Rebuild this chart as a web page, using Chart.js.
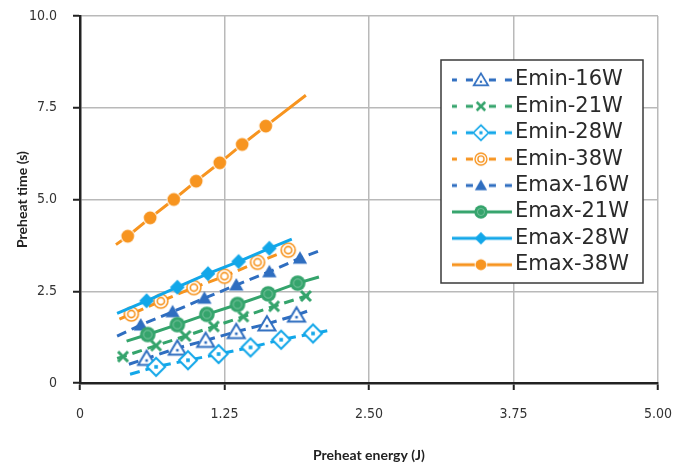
<!DOCTYPE html>
<html><head><meta charset="utf-8">
<script src="https://cdn.jsdelivr.net/npm/chart.js@4.4.1/dist/chart.umd.min.js"></script>
<style>html,body{margin:0;padding:0;background:#fff;}#wrap{width:686px;height:464px;}</style>
</head><body><div id="wrap"><canvas id="c" width="686" height="464"></canvas></div>
<script>
// ---------- data ----------
const SERIES_NAMES = ['Emin-16W','Emin-21W','Emin-28W','Emin-38W','Emax-16W','Emax-21W','Emax-28W','Emax-38W'];

const EMIN_16W_X = [0.576, 0.842, 1.087, 1.352, 1.617, 1.873];
const EMIN_16W_Y = [0.67, 0.95, 1.16, 1.40, 1.61, 1.85];
const EMIN_16W_FIT = [0.423, 0.51, 1.995, 1.99];

const EMIN_21W_X = [0.372, 0.658, 0.913, 1.158, 1.413, 1.679, 1.954];
const EMIN_21W_Y = [0.72, 1.02, 1.28, 1.54, 1.81, 2.09, 2.37];
const EMIN_21W_FIT = [0.321, 0.67, 2.016, 2.45];

const EMIN_28W_X = [0.658, 0.934, 1.199, 1.475, 1.740, 2.016];
const EMIN_28W_Y = [0.44, 0.62, 0.79, 0.97, 1.18, 1.35];
const EMIN_28W_FIT = [0.433, 0.24, 2.189, 1.45];

const EMIN_38W_X = [0.444, 0.699, 0.985, 1.250, 1.536, 1.801];
const EMIN_38W_Y = [1.88, 2.23, 2.60, 2.91, 3.29, 3.62];
const EMIN_38W_FIT = [0.341, 1.74, 1.873, 3.73];

const EMAX_16W_X = [0.525, 0.801, 1.076, 1.352, 1.638, 1.903];
const EMAX_16W_Y = [1.58, 1.94, 2.31, 2.67, 3.03, 3.40];
const EMAX_16W_FIT = [0.321, 1.28, 2.087, 3.62];

const EMAX_21W_X = [0.586, 0.842, 1.097, 1.362, 1.628, 1.883];
const EMAX_21W_Y = [1.32, 1.59, 1.87, 2.14, 2.43, 2.72];
const EMAX_21W_FIT = [0.403, 1.14, 2.067, 2.89];

const EMAX_28W_X = [0.576, 0.842, 1.107, 1.372, 1.638];
const EMAX_28W_Y = [2.24, 2.61, 2.98, 3.31, 3.67];
const EMAX_28W_FIT = [0.321, 1.90, 1.832, 3.92];

const EMAX_38W_X = [0.413, 0.607, 0.811, 1.005, 1.209, 1.403, 1.607];
const EMAX_38W_Y = [4.0, 4.5, 5.0, 5.5, 6.0, 6.5, 7.0];
const EMAX_38W_FIT = [0.311, 3.77, 1.954, 7.84];

const X_TICKS = [0, 1.25, 2.5, 3.75, 5];
const X_TICK_LABELS = ['0', '1.25', '2.50', '3.75', '5.00'];
const Y_TICKS = [0, 2.5, 5, 7.5, 10];
const Y_TICK_LABELS = ['0', '2.5', '5.0', '7.5', '10.0'];

// ---------- styling ----------
const BLUE = '#2f6ec0', GREEN = '#35a46c', CYAN = '#12a7e9', ORANGE = '#f7941f';

function drawMarker(g, kind, color) {
  g.lineJoin = 'miter';
  switch (kind) {
    case 'triOpen':
      g.beginPath(); g.moveTo(0, -7.8); g.lineTo(8.5, 6.4); g.lineTo(-8.5, 6.4); g.closePath();
      g.fillStyle = '#fff'; g.fill(); g.strokeStyle = color; g.lineWidth = 2; g.stroke();
      g.fillStyle = color; g.fillRect(-1.3, 0.8, 2.6, 2.6); break;
    case 'cross':
      g.strokeStyle = color; g.lineWidth = 3; g.beginPath();
      g.moveTo(-5, -5); g.lineTo(5, 5); g.moveTo(5, -5); g.lineTo(-5, 5); g.stroke(); break;
    case 'diaOpen':
      g.beginPath(); g.moveTo(0, -9); g.lineTo(9, 0); g.lineTo(0, 9); g.lineTo(-9, 0); g.closePath();
      g.fillStyle = '#fff'; g.fill(); g.strokeStyle = color; g.lineWidth = 2; g.stroke();
      g.fillStyle = color; g.fillRect(-1.8, -1.8, 3.6, 3.6); break;
    case 'circOpen2':
      g.beginPath(); g.arc(0, 0, 7, 0, Math.PI * 2); g.fillStyle = '#fff'; g.fill();
      g.strokeStyle = color; g.lineWidth = 1.6; g.stroke();
      g.beginPath(); g.arc(0, 0, 3.6, 0, Math.PI * 2); g.stroke(); break;
    case 'triFill':
      g.beginPath(); g.moveTo(0, -7); g.lineTo(7.2, 5.6); g.lineTo(-7.2, 5.6); g.closePath();
      g.fillStyle = color; g.fill(); break;
    case 'circFill2':
      g.beginPath(); g.arc(0, 0, 7.8, 0, Math.PI * 2); g.fillStyle = color; g.fill();
      g.beginPath(); g.arc(0, 0, 4.2, 0, Math.PI * 2); g.strokeStyle = 'rgba(255,255,255,0.35)'; g.lineWidth = 1; g.stroke(); break;
    case 'diaFill':
      g.beginPath(); g.moveTo(0, -7.4); g.lineTo(7.4, 0); g.lineTo(0, 7.4); g.lineTo(-7.4, 0); g.closePath();
      g.fillStyle = color; g.fill(); break;
    case 'circFill':
      g.beginPath(); g.arc(0, 0, 7.4, 0, Math.PI * 2); g.fillStyle = '#fff'; g.fill();
      g.beginPath(); g.arc(0, 0, 6.4, 0, Math.PI * 2); g.fillStyle = color; g.fill(); break;
  }
}
function markerCanvas(kind, color) {
  const c = document.createElement('canvas'); c.width = 24; c.height = 24;
  const g = c.getContext('2d'); g.translate(12, 12); drawMarker(g, kind, color); return c;
}
function legendSample(kind, color, dashed) {
  const c = document.createElement('canvas'); c.width = 66; c.height = 22;
  const g = c.getContext('2d');
  g.strokeStyle = color; g.lineWidth = 3;
  if (dashed) { g.setLineDash([7, 9]); }
  g.beginPath(); g.moveTo(2, 11); g.lineTo(33, 11); g.stroke();
  g.beginPath(); g.moveTo(64, 11); g.lineTo(33, 11); g.stroke();
  g.setLineDash([]);
  g.translate(33, 11); g.scale(0.85, 0.85); drawMarker(g, kind, color);
  return c;
}

const SPECS = [
  [EMIN_16W_X, EMIN_16W_Y, EMIN_16W_FIT, 'triOpen', BLUE, true],
  [EMIN_21W_X, EMIN_21W_Y, EMIN_21W_FIT, 'cross', GREEN, true],
  [EMIN_28W_X, EMIN_28W_Y, EMIN_28W_FIT, 'diaOpen', CYAN, true],
  [EMIN_38W_X, EMIN_38W_Y, EMIN_38W_FIT, 'circOpen2', ORANGE, true],
  [EMAX_16W_X, EMAX_16W_Y, EMAX_16W_FIT, 'triFill', BLUE, true],
  [EMAX_21W_X, EMAX_21W_Y, EMAX_21W_FIT, 'circFill2', GREEN, false],
  [EMAX_28W_X, EMAX_28W_Y, EMAX_28W_FIT, 'diaFill', CYAN, false],
  [EMAX_38W_X, EMAX_38W_Y, EMAX_38W_FIT, 'circFill', ORANGE, false]
];
const LEGEND_SAMPLES = SPECS.map(s => legendSample(s[3], s[4], s[5]));

const datasets = SPECS.map((s, i) => {
  const [xs, ys, fit, kind, color, dashed] = s;
  const data = [{x: fit[0], y: fit[1]}].concat(xs.map((x, j) => ({x: x, y: ys[j]})), [{x: fit[2], y: fit[3]}]);
  const n = data.length;
  const radii = data.map((_, j) => (j === 0 || j === n - 1) ? 0 : 7);
  return {
    label: SERIES_NAMES[i], data: data, showLine: true, order: SPECS.length - i,
    borderColor: color, backgroundColor: color, borderWidth: 3,
    borderDash: dashed ? [10, 6] : [], borderCapStyle: 'butt',
    pointStyle: markerCanvas(kind, color), pointRadius: radii, pointHoverRadius: radii,
    tension: 0
  };
});

// legend box (pixel frame around the legend)
const BOX = {l: 441, t: 60, r: 643, b: 283};
const legendPlacer = {
  id: 'legendPlacer',
  beforeDraw(chart) {
    const lg = chart.legend;
    lg.left = 452; lg.top = 64; lg.right = BOX.r; lg.bottom = 300;
    lg.width = lg.right - lg.left; lg.height = lg.bottom - lg.top;
  },
  afterDatasetsDraw(chart) {
    const ctx = chart.ctx;
    ctx.save();
    ctx.fillStyle = '#fff';
    ctx.fillRect(BOX.l, BOX.t, BOX.r - BOX.l, BOX.b - BOX.t);
    ctx.strokeStyle = '#3a3a3a'; ctx.lineWidth = 1.5;
    ctx.strokeRect(BOX.l, BOX.t, BOX.r - BOX.l, BOX.b - BOX.t);
    ctx.restore();
    chart.legend.draw();
  }
};

const TICK_FONT = {family: "'Liberation Sans Narrow', 'DejaVu Sans Condensed', sans-serif", size: 14};
const TITLE_FONT = {family: 'Lato, sans-serif', size: 14, weight: 'bold'};
const gridOpts = {color: '#b9b9b9', lineWidth: 1.5, tickLength: 7, tickColor: '#222', tickWidth: 2};

new Chart(document.getElementById('c'), {
  type: 'scatter',
  data: {datasets: datasets},
  options: {
    responsive: false, animation: false, devicePixelRatio: 1,
    layout: {padding: {top: 16, right: 28, bottom: 0, left: 0}},
    plugins: {
      tooltip: {enabled: false},
      legend: {
        position: 'chartArea', align: 'start',
        labels: {
          usePointStyle: true, pointStyleWidth: 47, padding: 5.4,
          color: '#2a2a2a', font: {family: "'DejaVu Sans', sans-serif", size: 21},
          generateLabels(chart) {
            const items = Chart.defaults.plugins.legend.labels.generateLabels(chart);
            items.sort((a, b) => a.datasetIndex - b.datasetIndex);
            items.forEach(it => { it.pointStyle = LEGEND_SAMPLES[it.datasetIndex]; });
            return items;
          }
        }
      }
    },
    scales: {
      x: {
        type: 'linear', min: 0, max: 5,
        afterBuildTicks: s => { s.ticks = X_TICKS.map(v => ({value: v})); },
        ticks: {callback: v => X_TICK_LABELS[X_TICKS.indexOf(v)], font: TICK_FONT, color: '#333', padding: 15.5, maxRotation: 0},
        grid: gridOpts,
        border: {color: '#222', width: 2.5},
        title: {display: true, text: 'Preheat energy (J)', font: TITLE_FONT, color: '#222', padding: {top: 0, bottom: 0}},
        afterFit: s => { s.height = 81; s.paddingLeft = 0; s.paddingRight = 0; }
      },
      y: {
        type: 'linear', min: 0, max: 10,
        afterBuildTicks: s => { s.ticks = Y_TICKS.map(v => ({value: v})); },
        ticks: {callback: v => Y_TICK_LABELS[Y_TICKS.indexOf(v)], font: TICK_FONT, color: '#333', padding: 16},
        grid: gridOpts,
        border: {color: '#222', width: 2.5},
        title: {display: true, text: 'Preheat time (s)', font: TITLE_FONT, color: '#222', padding: {top: 14, bottom: 0}},
        afterFit: s => { s.width = 80; s.paddingTop = 0; s.paddingBottom = 0; }
      }
    }
  },
  plugins: [legendPlacer]
});
</script></body></html>
